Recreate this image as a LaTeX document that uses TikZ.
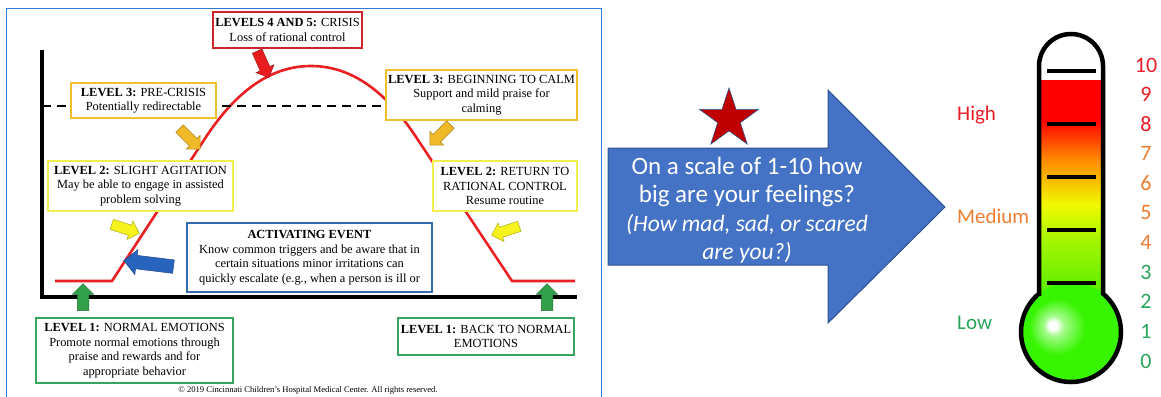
\documentclass[tikz,border=0pt]{standalone}
\usepackage{fontspec}
\setmainfont{Liberation Serif}
\newfontfamily\pptfont{Carlito}
\usepackage{tikz}
\usetikzlibrary{positioning}
\usetikzlibrary{shapes.arrows,shapes.geometric}

\definecolor{framebl}{RGB}{45,125,215}
\definecolor{boxred}{RGB}{205,35,45}
\definecolor{boxgold}{RGB}{238,192,45}
\definecolor{boxyel}{RGB}{242,238,80}
\definecolor{boxblue}{RGB}{55,105,175}
\definecolor{boxgreen}{RGB}{55,165,95}
\definecolor{curvered}{RGB}{232,32,36}
\definecolor{arrred}{RGB}{232,30,30}
\definecolor{arrgold}{RGB}{240,185,40}
\definecolor{arryel}{RGB}{246,242,30}
\definecolor{arrblue}{RGB}{40,100,190}
\definecolor{arrgreen}{RGB}{50,160,75}
\definecolor{pptblue}{RGB}{68,114,196}
\definecolor{pptdark}{RGB}{47,82,143}
\definecolor{starred}{RGB}{192,0,0}
\definecolor{hired}{RGB}{232,28,38}
\definecolor{medorange}{RGB}{237,125,49}
\definecolor{lowgreen}{RGB}{40,165,90}
\definecolor{mgreen}{RGB}{80,238,0}
\definecolor{mlime}{RGB}{165,245,0}
\definecolor{myellow}{RGB}{240,250,0}
\definecolor{morange}{RGB}{255,140,0}
\definecolor{mred}{RGB}{255,0,0}
\definecolor{bulbgreen}{RGB}{55,245,0}

\pgfdeclareverticalshading{mercury}{100bp}{color(0bp)=(mgreen); color(25bp)=(mgreen); color(38.6bp)=(mlime); color(46.6bp)=(myellow); color(56.8bp)=(morange); color(65.9bp)=(mred); color(100bp)=(mred)}
\pgfdeclareradialshading{bulbglow}{\pgfpoint{-9.5bp}{3.5bp}}{color(0bp)=(white); color(2bp)=(white); color(5bp)=(white!55!bulbgreen); color(14bp)=(bulbgreen); color(50bp)=(bulbgreen)}

\tikzstyle{levelbox}=[draw,line width=1.3pt,fill=white,align=center,inner sep=1pt,font=\fontsize{12.4}{14.5}\selectfont]
\tikzstyle{blockarrow}=[single arrow,draw,line width=0.5pt,inner xsep=0pt]
\tikzstyle{chartaxis}=[draw,line width=3.2pt]
\tikzstyle{levelcurve}=[draw=curvered,line width=2.6pt]
\tikzstyle{levelline}=[draw,line width=2.2pt,dash pattern=on 9pt off 6pt]
\tikzstyle{bigarrow}=[draw=pptdark,fill=pptblue,line width=1pt]
\tikzstyle{asktext}=[text=white,align=center,font=\pptfont\fontsize{25}{28.5}\selectfont]
\tikzstyle{scalenum}=[font=\pptfont\fontsize{22}{22}\selectfont]
\tikzstyle{scaleword}=[anchor=west,inner sep=0pt,font=\pptfont\fontsize{21}{21}\selectfont]
\tikzstyle{tickbar}=[draw,line width=3.6pt]

\begin{document}
\begin{tikzpicture}[x=1pt,y=-1pt]
  \useasboundingbox (0,0) rectangle (1161,396);

  %% left: the escalation chart
  \draw[framebl,line width=1pt] (6,402) -- (6,9) -- (601,9) -- (601,402);

  \coordinate (ytop) at (42,50);
  \coordinate (origin) at (42,297);
  \coordinate (xend) at (577,297);
  \coordinate (dstart) at (42,106);
  \path[chartaxis] (ytop) -- (origin) -- (xend);

  \coordinate (c1) at (55,281);
  \coordinate (c2) at (112,281);
  \coordinate (c3) at (204,140);
  \coordinate (peak) at (311,66);
  \coordinate (c4) at (418,140);
  \coordinate (c5) at (512,281);
  \coordinate (c6) at (575,281);
  \path[levelcurve] (c1) -- (c2) -- (c3) .. controls (235,92) and (270,66) .. (peak)
    .. controls (352,66) and (387,92) .. (c4) -- (c5) -- (c6);

  \node[levelbox,draw=boxgold,minimum width=191,minimum height=50] (calm) at (481.5,95)
    {\textbf{LEVEL 3:} BEGINNING TO CALM\\Support and mild praise for\\calming};
  \path[levelline] (dstart) -- (dstart -| calm.west);

  \node[levelbox,draw=boxred,minimum width=149,minimum height=36] (crisis) at (287.5,30)
    {\textbf{LEVELS 4 AND 5:} CRISIS\\Loss of rational control};
  \node[levelbox,draw=boxgold,minimum width=145,minimum height=35] (precrisis) at (143.5,100.5)
    {\textbf{LEVEL 3:} PRE-CRISIS\\Potentially redirectable};
  \node[levelbox,draw=boxyel,minimum width=185,minimum height=50] (agitation) at (140.5,186)
    {\textbf{LEVEL 2:} SLIGHT AGITATION\\May be able to engage in assisted\\problem solving};
  \node[levelbox,draw=boxyel,minimum width=144,minimum height=50] (return) at (505,186)
    {\textbf{LEVEL 2:} RETURN TO\\RATIONAL CONTROL\\Resume routine};
  \node[levelbox,draw=boxblue,minimum width=245,minimum height=69] (event) at (309.5,257.5)
    {\textbf{ACTIVATING EVENT}\\Know common triggers and be aware that in\\certain situations minor irritations can\\quickly escalate (e.g., when a person is ill or};
  \node[levelbox,draw=boxgreen,minimum width=197,minimum height=65] (normal) at (134.5,350.5)
    {\textbf{LEVEL 1:} NORMAL EMOTIONS\\Promote normal emotions through\\praise and rewards and for\\appropriate behavior};
  \node[levelbox,draw=boxgreen,minimum width=176,minimum height=37] (backnormal) at (486,336.5)
    {\textbf{LEVEL 1:} BACK TO NORMAL\\EMOTIONS};

  % block arrows: position / angle / length / half shaft / colour / name
  \foreach \pos/\ang/\len/\wid/\col/\name in {{(262,62)/-66/29/5/arrred/arrcrisis}, {(188,137)/-45/29/5/arrgold/arrpre},
      {(442,133)/-135/29/5/arrgold/arrcalm}, {(123,228)/-18/29/5/arryel/arragit}, {(508,230)/-162/29/5/arryel/arrreturn},
      {(152,264)/173/50/6.5/arrblue/arrevent}, {(83,300)/90/27/5.5/arrgreen/arrnormal}, {(547,300)/90/27/5.5/arrgreen/arrback}}
    \node[blockarrow,fill=\col,draw=\col!70!black,inner ysep=\wid,single arrow head extend=0.9*\wid,minimum height=\len,rotate=\ang] (\name) at \pos {};

  \node[font=\fontsize{8.6}{10}\selectfont] (copyright) at (308,390)
    {© 2019 Cincinnati Children's Hospital Medical Center. All rights reserved.};

  %% middle: the question arrow
  \path[bigarrow] (608,148) -- (828,148) -- (828,90) -- (945,207) -- (828,323) -- (828,265) -- (608,265) -- cycle;
  \node[star,star points=5,star point ratio=2.6,minimum size=62,inner sep=0pt,fill=starred,draw=pptdark,line width=0.6pt] (star) at (729,119) {};
  \node[asktext] (ask) at (747,210)
    {On a scale of 1-10 how\\big are your feelings?\\{\itshape\fontsize{23.5}{27}\selectfont (How mad, sad, or scared}\\{\itshape\fontsize{23.5}{27}\selectfont are you?)}};

  %% right: the thermometer
  \coordinate (bulb) at (1071,332);
  \def\outline{(1039,293.6) -- (1039,66) arc[start angle=180,end angle=360,radius=32] -- (1103,293.6) arc[start angle=-50.2,end angle=230.2,radius=50] -- cycle}
  \begin{scope}
    \clip \outline;
    \fill[white] (1030,20) rectangle (1110,390);
    \shade[shading=mercury] (1030,80) rectangle (1110,300);
    \shade[shading=bulbglow] (bulb) circle[radius=50];
  \end{scope}
  \foreach \y in {71,124,177,230,283}
    \path[tickbar] (1047,\y) -- (1096,\y);
  \draw[line width=4.5pt] \outline;

  \foreach \n/\col in {10/hired, 9/hired, 8/hired, 7/medorange, 6/medorange, 5/medorange, 4/medorange, 3/lowgreen, 2/lowgreen, 1/lowgreen, 0/lowgreen}
    \node[scalenum,text=\col] (num\n) at (1146,{65+(10-\n)*29.6}) {\n};

  \node[scaleword,text=hired] (high) at (957,115) {High};
  \node[scaleword,text=medorange] (medium) at (957,216) {Medium};
  \node[scaleword,text=lowgreen] (low) at (957,323) {Low};
\end{tikzpicture}
\end{document}
